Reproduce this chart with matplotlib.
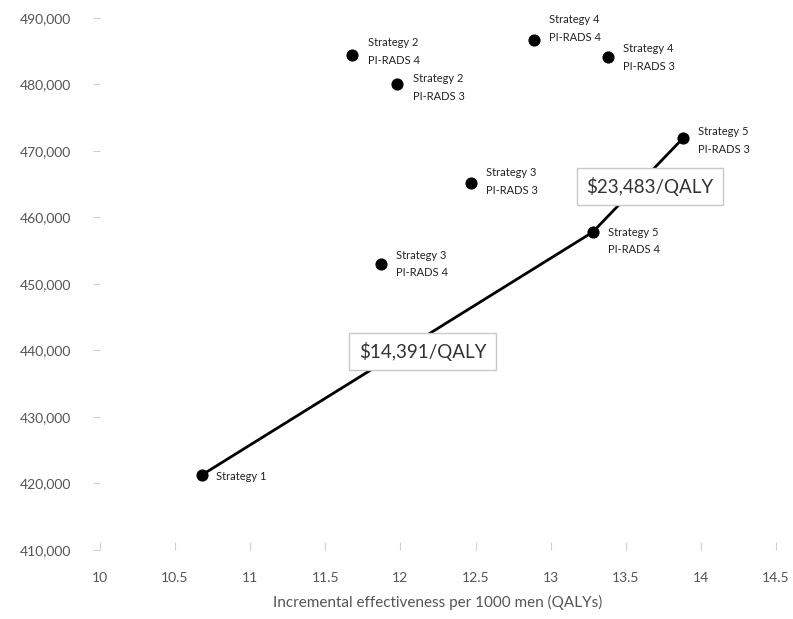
import matplotlib
matplotlib.use('Agg')
import matplotlib.pyplot as plt

plt.rcParams['font.family'] = ['Lato', 'DejaVu Sans']

# data
labels = ['Strategy 1', 'Strategy 2\nPI-RADS 4', 'Strategy 2\nPI-RADS 3',
          'Strategy 4\nPI-RADS 4', 'Strategy 4\nPI-RADS 3', 'Strategy 5\nPI-RADS 3',
          'Strategy 3\nPI-RADS 3', 'Strategy 5\nPI-RADS 4', 'Strategy 3\nPI-RADS 4']
qalys = [10.68, 11.68, 11.98, 12.89, 13.38, 13.88, 12.47, 13.28, 11.87]
costs = [421300, 484500, 480000, 486700, 484100, 471900, 465200, 457800, 453000]
# label offsets in points (dx, dy)
offsets = [(10, -1), (11, 2), (11, -2), (11, 8), (11, 0), (11, -1.5), (11, 1), (11, -6.5), (11, 0)]

frontier = [0, 7, 5]  # indices on the efficiency frontier
icers = ['$14,391/QALY', '$23,483/QALY']
icer_pos = [(12.147, 439850), (13.66, 464660)]

fig = plt.figure(figsize=(7.93, 6.19), dpi=100)
ax = fig.add_axes([0.126, 0.1115, 0.8526, 0.8595])

ax.plot([qalys[i] for i in frontier], [costs[i] for i in frontier],
        color='black', lw=2, zorder=2)
ax.scatter(qalys, costs, s=60, color='black', zorder=3)

for lab, x, y, off in zip(labels, qalys, costs, offsets):
    ax.annotate(lab, (x, y), xytext=off, textcoords='offset points',
                ha='left', va='center', fontsize=8, color='#222222',
                linespacing=1.75)

for txt, (x, y) in zip(icers, icer_pos):
    ax.text(x, y, txt, ha='center', va='center', fontsize=13.5, color='#333333',
            zorder=4,
            bbox=dict(boxstyle='square,pad=0.5', fc='white', ec='#c8c8c8', lw=1))

ax.set_xlim(10, 14.5)
ax.set_ylim(410000, 490000)
ax.set_xticks([10, 10.5, 11, 11.5, 12, 12.5, 13, 13.5, 14, 14.5])
ax.set_xticklabels(['10', '10.5', '11', '11.5', '12', '12.5', '13', '13.5', '14', '14.5'])
ax.set_yticks(range(410000, 490001, 10000))
ax.yaxis.set_major_formatter(matplotlib.ticker.FuncFormatter(lambda v, p: f'{int(v):,}'))

for s in ax.spines.values():
    s.set_visible(False)
ax.tick_params(axis='y', length=5, pad=16, color='#d0d0d0', labelsize=10, labelcolor='#555555')
ax.tick_params(axis='x', direction='in', length=6, pad=16, color='#d0d0d0',
               labelsize=10, labelcolor='#555555')
ax.set_xlabel('Incremental effectiveness per 1000 men (QALYs)', fontsize=11,
              color='#555555', labelpad=8)

fig.savefig('out.png', dpi=100)
